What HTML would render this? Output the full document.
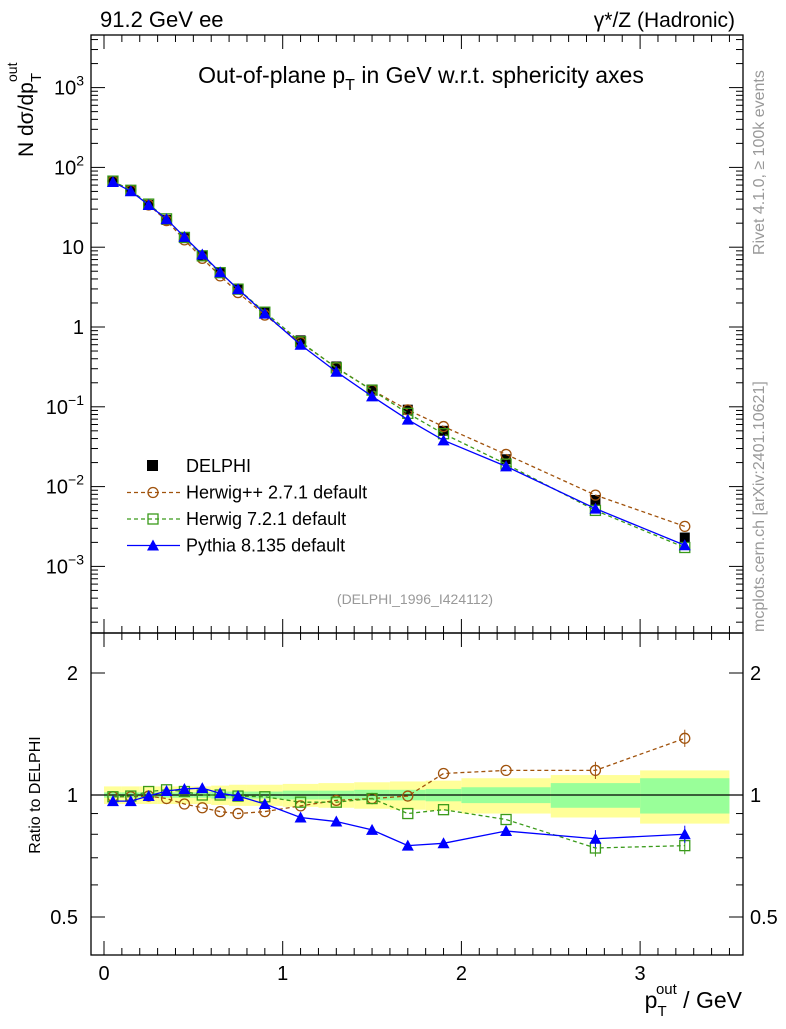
<!DOCTYPE html>
<html><head><meta charset="utf-8"><style>
body{margin:0;background:#fff;width:786px;height:1024px;overflow:hidden}
svg{font-family:"Liberation Sans",sans-serif}
</style></head><body>
<svg id="c" width="786" height="1024"></svg>
<script>
const xs=[0.05,0.15,0.25,0.35,0.45,0.55,0.65,0.75,0.9,1.1,1.3,1.5,1.7,1.9,2.25,2.75,3.25];
const xw=[0.05,0.05,0.05,0.05,0.05,0.05,0.05,0.05,0.1,0.1,0.1,0.1,0.1,0.1,0.25,0.25,0.25];
const delphi=[68,52,34,22,13,7.8,4.8,3.0,1.55,0.68,0.32,0.165,0.092,0.05,0.022,0.0068,0.0023];
const rHpp=[0.99,0.99,0.994,0.98,0.95,0.93,0.91,0.90,0.91,0.94,0.97,0.98,0.994,1.13,1.15,1.15,1.38];
const rH7=[0.99,0.994,1.02,1.03,1.02,1.0,1.0,0.994,0.99,0.96,0.96,0.98,0.90,0.92,0.87,0.74,0.75];
const rPy=[0.966,0.966,0.994,1.023,1.035,1.04,1.01,0.994,0.95,0.88,0.86,0.82,0.75,0.76,0.815,0.78,0.80];
const bandStat=[0.015,0.015,0.015,0.015,0.015,0.015,0.02,0.02,0.02,0.025,0.025,0.03,0.03,0.035,0.045,0.07,0.1];
const bandTot=[0.05,0.05,0.05,0.05,0.05,0.05,0.055,0.06,0.06,0.065,0.07,0.075,0.08,0.085,0.1,0.12,0.15];
const NS='http://www.w3.org/2000/svg',svg=document.getElementById('c');
function el(t,a,p){const e=document.createElementNS(NS,t);for(const k in a)e.setAttribute(k,a[k]);(p||svg).appendChild(e);return e;}
const L=91,R=743,T=35,M=633,B=955;
const X=v=>104+v*178.7;
const Y=v=>327-Math.log10(v)*79.8;
const YR=v=>795-Math.log2(v)*122;
for(let i=0;i<xs.length;i++){
 let b=el('rect',{x:X(xs[i]-xw[i]),y:YR(1+bandTot[i]),width:X(xs[i]+xw[i])-X(xs[i]-xw[i]),height:YR(1-bandTot[i])-YR(1+bandTot[i]),fill:'#ffff99'});
 
 let g=el('rect',{x:X(xs[i]-xw[i]),y:YR(1+bandStat[i]),width:X(xs[i]+xw[i])-X(xs[i]-xw[i]),height:YR(1-bandStat[i])-YR(1+bandStat[i]),fill:'#99ff99'});
 
}
el('line',{x1:L,x2:R,y1:YR(1),y2:YR(1),stroke:'#000','stroke-width':1.3});
el('rect',{x:L,y:T,width:R-L,height:M-T,fill:'none',stroke:'#000','stroke-width':1.3});
el('rect',{x:L,y:M,width:R-L,height:B-M,fill:'none',stroke:'#000','stroke-width':1.3});
for(let v=0;v<=3.5001;v+=0.1){const big=Math.abs(v-Math.round(v))<1e-6;const len=big?14:7;
 for(const [y0,d] of [[M,-1],[T,1],[B,-1],[M,1]]) el('line',{x1:X(v),x2:X(v),y1:y0,y2:y0+d*len,stroke:'#000'});
 if(big){const t=el('text',{x:X(v),y:980,'font-size':20,'text-anchor':'middle'});t.textContent=Math.round(v);}}
const labs={3:'10<tspan dy="-9" font-size="14">3</tspan>',2:'10<tspan dy="-9" font-size="14">2</tspan>',1:'10',0:'1','-1':'10<tspan dy="-9" font-size="14">−1</tspan>','-2':'10<tspan dy="-9" font-size="14">−2</tspan>','-3':'10<tspan dy="-9" font-size="14">−3</tspan>'};
for(let e=-4;e<=3;e++)for(let m=1;m<10;m++){const v=m*Math.pow(10,e),y=Y(v);if(y<T||y>M)continue;const len=m==1?14:7;
 el('line',{x1:L,x2:L+len,y1:y,y2:y,stroke:'#000'});el('line',{x1:R,x2:R-len,y1:y,y2:y,stroke:'#000'});
 if(m==1){const t=el('text',{x:84,y:y+7,'font-size':20,'text-anchor':'end'});t.innerHTML=labs[e];}}
[0.5,0.6,0.7,0.8,0.9,1,2].forEach(v=>{const y=YR(v),big=(v==0.5||v==1||v==2),len=big?14:7;
 el('line',{x1:L,x2:L+len,y1:y,y2:y,stroke:'#000'});el('line',{x1:R,x2:R-len,y1:y,y2:y,stroke:'#000'});
 if(big){const t=el('text',{x:78,y:y+7,'font-size':20,'text-anchor':'end'});t.textContent=v;
 const t2=el('text',{x:750,y:y+7,'font-size':20});t2.textContent=v;}});
function circ(x,y,c,name){const e=el('circle',{cx:x,cy:y,r:5,fill:'none',stroke:c,'stroke-width':1.3});}
function sq(x,y,c,name){const e=el('rect',{x:x-5,y:y-5,width:10,height:10,fill:'none',stroke:c,'stroke-width':1.3});}
function tri(x,y,c,name){const e=el('polygon',{points:`${x},${y-6} ${x-6},${y+5} ${x+6},${y+5}`,fill:c});}
function line(pts,c,dash,name){const e=el('polyline',{points:pts.map(p=>p.join(',')).join(' '),fill:'none',stroke:c,'stroke-width':1.3,'stroke-dasharray':dash||'none'});}
const series=[[rHpp,'#a0520c','4,3',circ,'herwigpp'],[rH7,'#3a9a1a','4,3',sq,'herwig7'],[rPy,'#0000ff','',tri,'pythia']];
delphi.forEach((v,i)=>{const e=el('rect',{x:X(xs[i])-5,y:Y(v)-5,width:10,height:10,fill:'#000'});});
series.forEach(([r,c,d,f,n])=>{line(xs.map((x,i)=>[X(x),Y(delphi[i]*r[i])]),c,d,n+'-line');xs.forEach((x,i)=>f(X(x),Y(delphi[i]*r[i]),c,n+'-point'));});
series.forEach(([r,c,d,f,n])=>{line(xs.map((x,i)=>[X(x),YR(r[i])]),c,d,n+'-ratio-line');xs.forEach((x,i)=>{if(i>=15){el('line',{x1:X(x),x2:X(x),y1:YR(r[i]*1.05),y2:YR(r[i]/1.05),stroke:c});}f(X(x),YR(r[i]),c,n+'-ratio-point');});});
const lg=[['DELPHI',null],['Herwig++ 2.7.1 default',0],['Herwig 7.2.1 default',1],['Pythia 8.135 default',2]];
lg.forEach(([txt,k],i)=>{const y=466+i*26.5;
 if(k===null){const e=el('rect',{x:147,y:y-6,width:11,height:11,fill:'#000'});}
 else{const s=series[k];el('line',{x1:127,x2:180,y1:y,y2:y,stroke:s[1],'stroke-width':1.3,'stroke-dasharray':s[2]||'none'});s[3](153,y,s[1],'legend-marker');}
 const t=el('text',{x:186,y:y+6,'font-size':18});t.textContent=txt;});
function tx(x,y,s,h,attrs,name){const t=el('text',Object.assign({x:x,y:y,'font-size':s},attrs||{}));t.innerHTML=h;return t;}
tx(100,27,22,'91.2 GeV ee',{},'energy-label');
tx(735,27,21,'γ*/Z (Hadronic)',{'text-anchor':'end'},'process-label');
tx(421,83,23,'Out-of-plane p<tspan dy="7" font-size="16">T</tspan><tspan dy="-7"> in GeV w.r.t. sphericity axes</tspan>',{'text-anchor':'middle'},'plot-title');
tx(415,604,14,'(DELPHI_1996_I424112)',{'text-anchor':'middle',fill:'#999'},'analysis-id');
tx(0,0,21,'N  dσ/dp<tspan dy="8" font-size="15">T</tspan><tspan dy="-24" dx="-9" font-size="14">out</tspan>',{transform:'translate(33,157) rotate(-90)'},'y-axis-title');
tx(0,0,16,'Ratio to DELPHI',{transform:'translate(40,795) rotate(-90)','text-anchor':'middle'},'ratio-axis-title');
tx(742,1008,23,'p<tspan dy="8" font-size="15">T</tspan><tspan dy="-22" dx="-9" font-size="15">out</tspan><tspan dy="14"> / GeV</tspan>',{'text-anchor':'end'},'x-axis-title');
tx(0,0,16,'Rivet 4.1.0, ≥ 100k events',{transform:'translate(764,255) rotate(-90)',fill:'#999'},'rivet-label');
tx(0,0,16,'mcplots.cern.ch [arXiv:2401.10621]',{transform:'translate(764,632) rotate(-90)',fill:'#999'},'mcplots-label');
</script>
</body></html>
